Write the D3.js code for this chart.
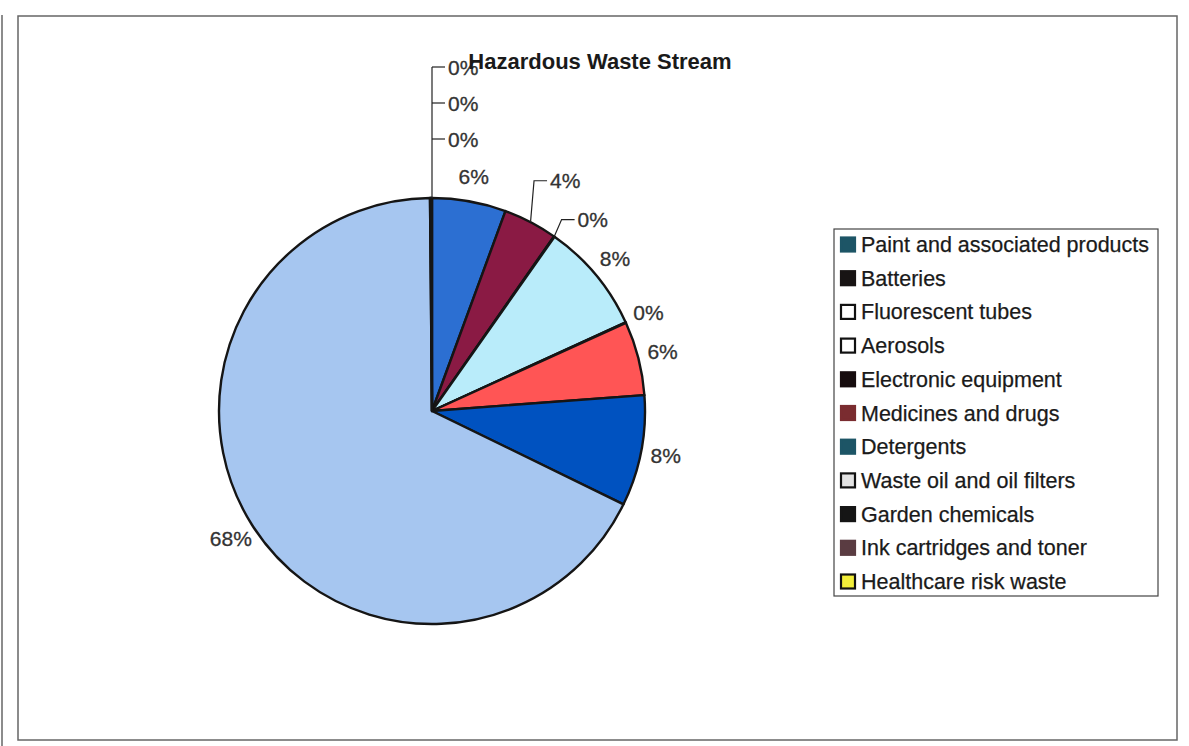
<!DOCTYPE html>
<html>
<head>
<meta charset="utf-8">
<script src="https://cdn.jsdelivr.net/npm/d3@7"></script>
<style>
  html, body { margin: 0; padding: 0; background: #ffffff; }
  svg { display: block; }
</style>
</head>
<body>
<svg id="chart" width="1189" height="746"></svg>
<script>
// ---------------- data ----------------
const title = "Hazardous Waste Stream";
const categories = [
  "Paint and associated products",
  "Batteries",
  "Fluorescent tubes",
  "Aerosols",
  "Electronic equipment",
  "Medicines and drugs",
  "Detergents",
  "Waste oil and oil filters",
  "Garden chemicals",
  "Ink cartridges and toner",
  "Healthcare risk waste"
];
// share of the hazardous waste stream (percent)
const values = [5.6, 4.1, 0.05, 8.4, 0.05, 5.6, 8.4, 67.6, 0.05, 0.05, 0.05];

// ---------------- styles ----------------
const sliceColors = ["#2c6fd2", "#8a1a44", "#ffff99", "#b9ecfa", "#660066",
                     "#ff5555", "#0052c0", "#a6c6f0", "#3366cc", "#cc99ff", "#ffff00"];
const legendFill   = ["#1d5566", "#181414", "#ffffff", "#ffffff", "#160c0e",
                      "#7a2c30", "#1d5566", "#e2e2e2", "#151515", "#5a3c42", "#f2ee3a"];
const legendStroke = ["#1d5566", "#181414", "#111111", "#111111", "#160c0e",
                      "#7a2c30", "#1d5566", "#111111", "#151515", "#5a3c42", "#111111"];

// label layout tweaks (leader-line labels, as placed by the original chart)
const labelLayout = {
  "Batteries": { leader: true, da: 2.5, dr: 28 },
  "Fluorescent tubes": { leader: true, da: 5, dr: 12 },
  "Garden chemicals": { stack: 2 },
  "Ink cartridges and toner": { stack: 1 },
  "Healthcare risk waste": { stack: 0 }
};

const W = 1189, H = 746;
const cx = 432, cy = 411, R = 213;
const labelR = 238;
const fontFamily = "'Liberation Sans', Arial, Helvetica, sans-serif";

const svg = d3.select("#chart");

// frames
svg.append("line").attr("x1", 2).attr("x2", 2).attr("y1", 15).attr("y2", 746)
  .attr("stroke", "#666").attr("stroke-width", 1.5);
svg.append("rect").attr("x", 18).attr("y", 16).attr("width", 1159).attr("height", 724)
  .attr("fill", "#ffffff").attr("stroke", "#666").attr("stroke-width", 1.5);

// pie
const total = d3.sum(values);
const data = categories.map((c, i) => ({ cat: c, value: values[i], i }));
const pie = d3.pie().sort(null).value(d => d.value);
const arcs = pie(data);
const arc = d3.arc().innerRadius(0).outerRadius(R);

const g = svg.append("g").attr("transform", `translate(${cx},${cy})`);
g.selectAll("path.slice").data(arcs).join("path")
  .attr("class", "slice")
  .attr("d", arc)
  .attr("fill", d => sliceColors[d.data.i])
  .attr("stroke", "#151515")
  .attr("stroke-width", 2.4)
  .attr("stroke-linejoin", "round");

// labels
const fmt = v => Math.round(v / total * 100) + "%";
const labelG = g.append("g")
  .attr("font-family", fontFamily)
  .attr("font-size", 21)
  .attr("fill", "#333")
  .attr("stroke", "#333")
  .attr("stroke-width", 0.3);

const polar = (a, r) => [Math.sin(a) * r, -Math.cos(a) * r];
const stackX = 16, stackBase = 59, stackGap = 36;
let topStackMax = -1;

arcs.forEach(d => {
  const lay = labelLayout[d.data.cat] || {};
  const mid = (d.startAngle + d.endAngle) / 2;
  const txt = fmt(d.data.value);
  if (lay.stack !== undefined) {
    const y = -R - stackBase - lay.stack * stackGap;
    labelG.append("text")
      .attr("x", stackX).attr("y", y)
      .attr("dominant-baseline", "central")
      .attr("text-anchor", "start")
      .text(txt);
    g.append("line").attr("x1", 0).attr("x2", stackX - 3).attr("y1", y).attr("y2", y)
      .attr("stroke", "#222").attr("stroke-width", 1.2);
    topStackMax = Math.max(topStackMax, lay.stack);
  } else if (lay.leader) {
    const a = mid + lay.da * Math.PI / 180;
    const [lx, ly] = polar(a, labelR + lay.dr);
    const t = labelG.append("text")
      .attr("x", lx).attr("y", ly)
      .attr("dominant-baseline", "central")
      .attr("text-anchor", "middle")
      .text(txt);
    const w = t.node().getComputedTextLength();
    const left = lx - w / 2;
    const [ax, ay] = polar(mid, R);
    g.append("polyline")
      .attr("points", [[ax, ay], [left - 16, ly], [left - 3, ly]].map(p => p.join(",")).join(" "))
      .attr("fill", "none").attr("stroke", "#222").attr("stroke-width", 1.2);
  } else {
    const [lx, ly] = polar(mid, labelR);
    labelG.append("text")
      .attr("x", lx).attr("y", ly)
      .attr("dominant-baseline", "central")
      .attr("text-anchor", "middle")
      .text(txt);
  }
});
if (topStackMax >= 0) {
  g.append("line").attr("x1", 0).attr("x2", 0)
    .attr("y1", -R).attr("y2", -R - stackBase - topStackMax * stackGap)
    .attr("stroke", "#222").attr("stroke-width", 1.2);
}

// title
svg.append("text")
  .attr("x", 600).attr("y", 69)
  .attr("text-anchor", "middle")
  .attr("font-family", fontFamily)
  .attr("font-weight", "bold")
  .attr("font-size", 22)
  .attr("fill", "#1a1a1a")
  .text(title);

// legend
const lg = svg.append("g").attr("font-family", fontFamily).attr("font-size", 21.5)
  .attr("fill", "#1a1a1a").attr("stroke", "#1a1a1a").attr("stroke-width", 0.25);
lg.append("rect").attr("x", 834).attr("y", 229).attr("width", 324).attr("height", 367)
  .attr("fill", "#ffffff").attr("stroke", "#444").attr("stroke-width", 1.2);
const ly0 = 245, lstep = 33.7;
categories.forEach((c, i) => {
  const y = ly0 + i * lstep;
  lg.append("rect").attr("x", 841).attr("y", y - 7.5).attr("width", 14).attr("height", 14)
    .attr("fill", legendFill[i]).attr("stroke", legendStroke[i]).attr("stroke-width", 2.2);
  lg.append("text").attr("x", 861).attr("y", y)
    .attr("dominant-baseline", "central")
    .text(c);
});
</script>
</body>
</html>
